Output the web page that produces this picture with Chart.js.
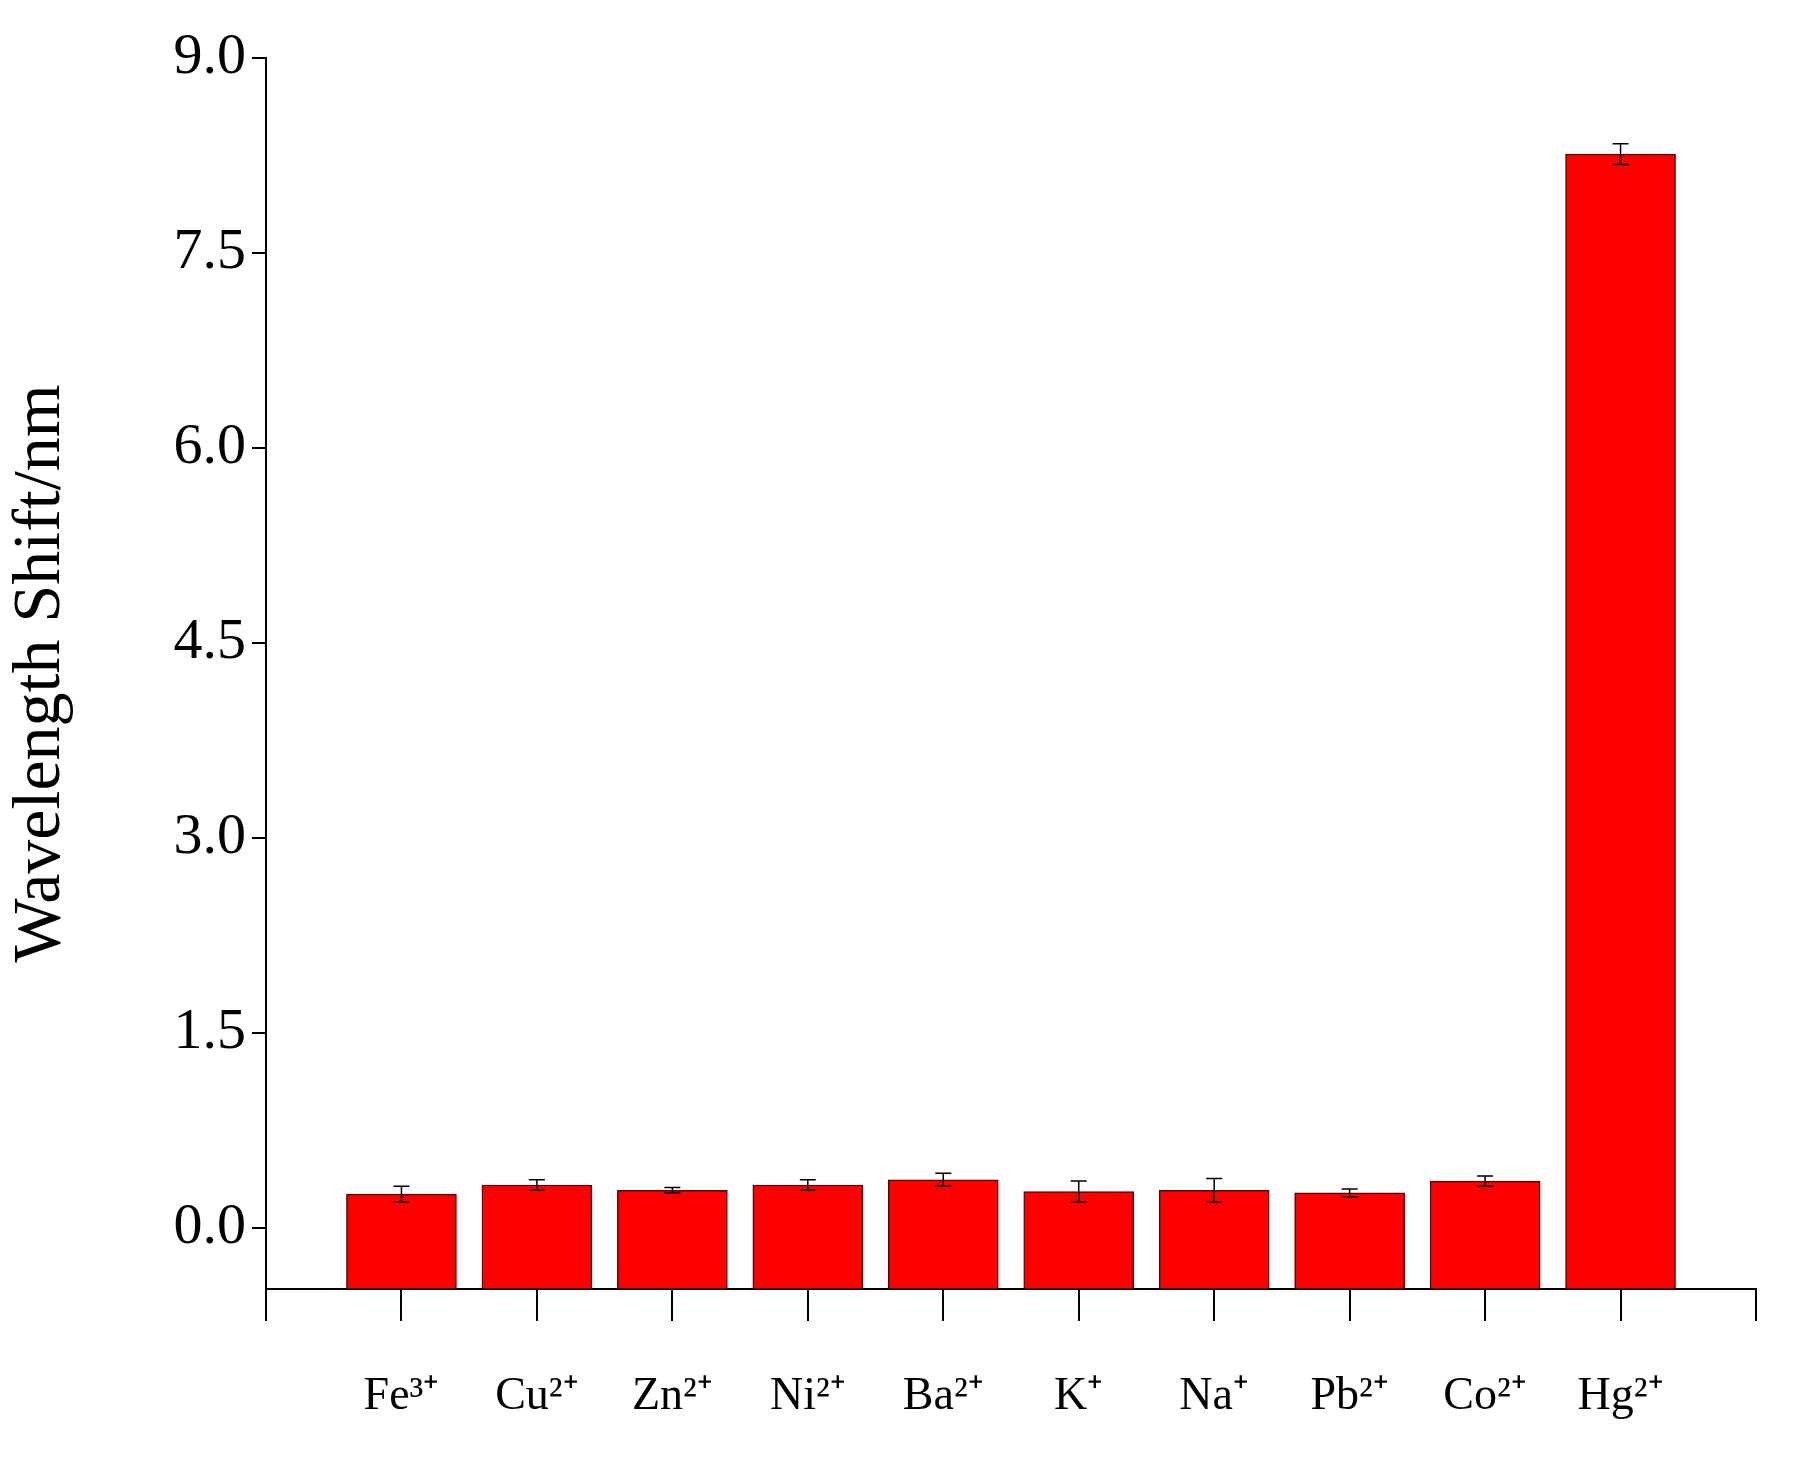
<!DOCTYPE html>
<html>
<head>
<script src="https://cdn.jsdelivr.net/npm/chart.js@4"></script>
<style>
  body { margin: 0; background: #fff; }
  #wrap { width: 1804px; height: 1481px; }
</style>
</head>
<body>
<div id="wrap"><canvas id="barChart"></canvas></div>
<script>
const ions = ['Fe³⁺', 'Cu²⁺', 'Zn²⁺', 'Ni²⁺', 'Ba²⁺', 'K⁺', 'Na⁺', 'Pb²⁺', 'Co²⁺', 'Hg²⁺'];
const shifts = [0.26, 0.33, 0.29, 0.33, 0.37, 0.28, 0.29, 0.27, 0.36, 8.26];
const errors = [0.06, 0.04, 0.02, 0.04, 0.05, 0.08, 0.09, 0.03, 0.04, 0.08];
const yTicks = [0, 1.5, 3.0, 4.5, 6.0, 7.5, 9.0];

const serif = 'Liberation Serif';

const errorBars = {
  id: 'errorBars',
  afterDatasetsDraw(chart) {
    const { ctx, scales: { x, y } } = chart;
    ctx.save();
    ctx.strokeStyle = '#000';
    ctx.lineWidth = 1.5;
    shifts.forEach((v, i) => {
      const px = x.getPixelForValue(i + 1);
      const top = y.getPixelForValue(v + errors[i]);
      const bot = y.getPixelForValue(v - errors[i]);
      ctx.beginPath();
      ctx.moveTo(px, top); ctx.lineTo(px, bot);
      ctx.moveTo(px - 8, top); ctx.lineTo(px + 8, top);
      ctx.moveTo(px - 8, bot); ctx.lineTo(px + 8, bot);
      ctx.stroke();
    });
    ctx.restore();
  }
};

const barChartCtx = document.getElementById('barChart').getContext('2d');
const barChart = new Chart(barChartCtx, {
  type: 'bar',
  data: {
    datasets: [{
      label: 'Wavelength Shift',
      data: shifts.map((v, i) => ({ x: i + 1, y: v })),
      backgroundColor: '#ff0000',
      borderColor: '#5a0000',
      borderWidth: 1.5,
      borderSkipped: false,
      barThickness: 110,
      base: -0.47
    }]
  },
  options: {
    responsive: true,
    maintainAspectRatio: false,
    animation: false,
    layout: { padding: { top: 58, right: 16 } },
    plugins: { legend: { display: false }, tooltip: { enabled: false } },
    scales: {
      x: {
        type: 'linear',
        min: 0,
        max: 11,
        offset: false,
        afterBuildTicks: (s) => { s.ticks = [...Array(12).keys()].map(v => ({ value: v })); },
        afterFit: (s) => { s.height = 192; },
        border: { color: '#000', width: 2 },
        grid: { drawOnChartArea: false, offset: false, tickLength: 32, color: '#000', lineWidth: 2 },
        ticks: {
          autoSkip: false,
          maxRotation: 0,
          padding: 48,
          color: '#000',
          font: { family: serif, size: 46 },
          callback: (v) => ions[v - 1] || ''
        }
      },
      y: {
        min: -0.47,
        max: 9.0,
        afterBuildTicks: (s) => { s.ticks = yTicks.map(v => ({ value: v })); },
        afterFit: (s) => { s.width = 266; },
        border: { color: '#000', width: 2 },
        grid: { drawOnChartArea: false, tickLength: 14, color: '#000', lineWidth: 2 },
        ticks: {
          padding: 6,
          color: '#000',
          font: { family: serif, size: 58 },
          callback: (v) => v.toFixed(1)
        },
        title: {
          display: true,
          text: 'Wavelength Shift/nm',
          color: '#000',
          font: { family: serif, size: 68 },
          padding: 0
        }
      }
    }
  },
  plugins: [errorBars]
});
</script>
</body>
</html>
